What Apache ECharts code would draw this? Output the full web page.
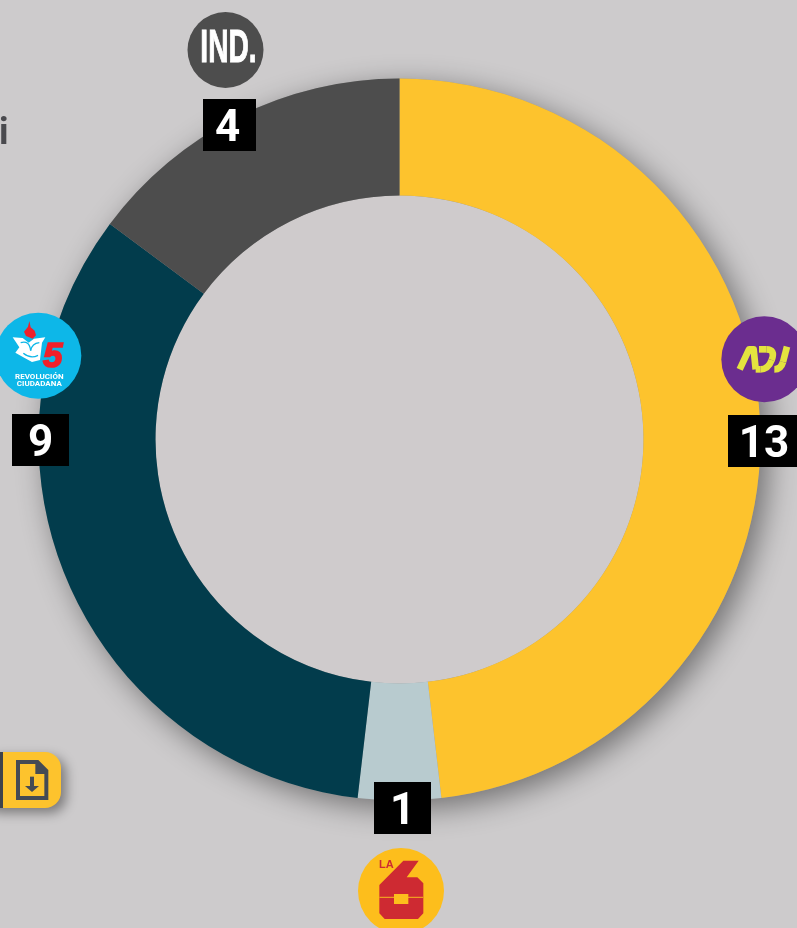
<!DOCTYPE html>
<html><head><meta charset="utf-8">
<script src="https://cdn.jsdelivr.net/npm/echarts@6/dist/echarts.min.js"></script>
<style>html,body{margin:0;padding:0;background:#cdcbcc;overflow:hidden}#c{width:797px;height:928px}</style>
</head><body><div id="c"></div>
<script>
const parties = ['ADN', 'La 6', 'Revolución Ciudadana', 'Independientes'];
const seats = [13, 1, 9, 4];
const colors = ['#FDC32D', '#B8CBCF', '#023C4C', '#4D4D4D'];
const BG = '#cdcbcc', HOLE = '#cfcbcc';
const labelCenters = [[764, 441], [402.5, 808], [40.5, 440], [229.5, 125]];
const labelWidths = [72, 57, 57, 49];
const labelPads = [[0,0,0,0], [0,0,0,0], [0,0,0,0], [0,4,0,0]];
const total = seats.reduce((a, b) => a + b, 0);
const CENTER = [399.5, 439.5];

const Z = 10;
const zoomGroup = (ox, oy, children) => ({type: 'group', x: ox, y: oy, scaleX: 1/3, scaleY: 1/3, children});
const poly = (points, fill) => ({type: 'polygon', shape: {points}, style: {fill}});
const pl = (points, stroke, lineWidth) => ({type: 'polyline', shape: {points}, style: {fill: 'none', stroke, lineWidth, lineJoin: 'round'}});
const bz = (p, c, q, stroke, lineWidth) => ({type: 'bezierCurve', shape: {x1: p[0], y1: p[1], cpx1: c[0], cpy1: c[1], x2: q[0], y2: q[1]}, style: {fill: 'none', stroke, lineWidth}});
const raise = el => { el.z = Z; (el.children || []).forEach(raise); return el; };

const logoIND = {type: 'group', children: [
  {type: 'circle', shape: {cx: 225.5, cy: 50, r: 38}, style: {fill: '#4D4D4D'}},
  {type: 'text', x: 228.5, y: 49, scaleX: .6, style: {text: 'IND.', font: 'bold 47px "Liberation Sans"', fill: '#fff', stroke: '#fff', lineWidth: 1, align: 'center', verticalAlign: 'middle'}}
]};

const RCB = '#0DB7E8';
const logoRC = zoomGroup(0, 300, [
  {type: 'circle', shape: {cx: 115, cy: 167, r: 129}, style: {fill: RCB}},
  poly([[88,63],[84,80],[72,95],[78,108],[98,116],[108,106],[104,92],[92,82]], '#F0202A'),
  poly([[38,112],[68,114],[86,128],[102,116],[136,112],[126,128],[120,180],[96,186],[70,172],[46,158],[58,142]], '#fff'),
  bz([62,128],[88,120],[92,152],RCB,4),
  bz([92,152],[96,130],[118,128],RCB,4),
  bz([70,160],[92,178],[114,166],RCB,4),
  {type: 'text', x: 158, y: 173, style: {text: '5', font: 'italic bold 105px "Liberation Sans"', fill: '#F0202A', stroke: '#F0202A', lineWidth: 5, align: 'center', verticalAlign: 'middle'}},
  {type: 'text', x: 118, y: 230, style: {text: 'REVOLUCIÓN', font: 'bold 24px Roboto', fill: '#fff', align: 'center', verticalAlign: 'middle'}},
  {type: 'text', x: 118, y: 252, style: {text: 'CIUDADANA', font: 'bold 24px Roboto', fill: '#fff', align: 'center', verticalAlign: 'middle'}}
]);

const ADY = '#E4E33F', ADW = 20;
const logoADN = zoomGroup(697, 300, [
  {type: 'circle', shape: {cx: 202, cy: 178, r: 129}, style: {fill: '#6B2D8F'}},
  pl([[128,208],[156,148],[170,148],[176,208]], ADY, ADW),
  pl([[186,148],[208,148]], ADY, ADW),
  bz([208,148],[236,148],[224,180],ADY,ADW),
  bz([224,180],[214,208],[190,208],ADY,ADW),
  pl([[190,208],[176,208]], ADY, ADW),
  pl([[270,140],[258,186]], ADY, ADW),
  bz([258,186],[252,208],[232,208],ADY,ADW)
]);

const logoLA6 = zoomGroup(340, 770, [
  {type: 'circle', shape: {cx: 183, cy: 363, r: 129}, style: {fill: '#FDBE1C'}},
  poly([[190,272],[236,272],[200,322],[232,322],[250,340],[250,430],[234,447],[134,447],[118,430],[118,345]], '#CE2A32'),
  {type: 'rect', shape: {x: 118, y: 380, width: 132, height: 4}, style: {fill: '#F09A22'}},
  {type: 'rect', shape: {x: 162, y: 372, width: 43, height: 30}, style: {fill: '#FDBE1C'}},
  {type: 'text', x: 139, y: 286, style: {text: 'LA', font: 'bold 33px "Liberation Sans"', fill: '#CE2A32', align: 'center', verticalAlign: 'middle'}}
]);

const ICON = '#454B54';
const download = {type: 'group', children: [
  {type: 'rect', shape: {x: -20, y: 752, width: 81, height: 56, r: 16}, style: {fill: '#FDC32D', shadowBlur: 12, shadowOffsetX: 5, shadowOffsetY: 5, shadowColor: 'rgba(0,0,0,.4)'}},
  {type: 'rect', shape: {x: 0, y: 752, width: 3, height: 56}, style: {fill: '#3E434B'}},
  zoomGroup(0, 740, [
    poly([[48,60],[115,60],[145,90],[145,180],[48,180]], ICON),
    poly([[60,72],[106,72],[106,102],[133,102],[133,168],[60,168]], '#FDC32D'),
    {type: 'rect', shape: {x: 90, y: 110, width: 12, height: 30}, style: {fill: ICON}},
    poly([[75,138],[117,138],[96,156]], ICON)
  ])
]};

const clippedText = {type: 'text', x: -1, y: 117, style: {text: 'i', font: 'bold 36px Roboto', fill: '#4A4A4E', align: 'left', verticalAlign: 'top'}};

const chart = echarts.init(document.getElementById('c'), null, {renderer: 'canvas'});
chart.setOption({
  animation: false,
  backgroundColor: BG,
  graphic: {elements: [clippedText, download, logoIND, logoRC, logoADN, logoLA6].map(raise)},
  series: [
    {type: 'pie', z: 1, silent: true, center: CENTER, radius: [0, 361], label: {show: false}, labelLine: {show: false},
     data: [{value: total, itemStyle: {color: '#999', shadowBlur: 30, shadowOffsetX: 8, shadowOffsetY: 8, shadowColor: 'rgba(0,0,0,.45)'}}]},
    {type: 'pie', z: 2, silent: true, center: CENTER, radius: [0, 244], label: {show: false}, labelLine: {show: false},
     data: [{value: total, itemStyle: {color: HOLE}}]},
    {type: 'pie', z: 3, silent: true, center: CENTER, radius: [244, 361], startAngle: 90, clockwise: true,
     avoidLabelOverlap: false,
     data: parties.map((name, i) => ({name, value: seats[i], itemStyle: {color: colors[i]},
       label: {width: labelWidths[i], padding: labelPads[i]}})),
     label: {show: true, position: 'outside', formatter: '{v|{c}}', backgroundColor: '#000', color: '#fff',
       height: 52, align: 'center', verticalAlign: 'middle',
       rich: {v: {fontFamily: 'Roboto', fontWeight: 'bold', fontSize: 44, color: '#fff', lineHeight: 52, height: 52, padding: [10, 0, 0, 0], align: 'center'}}},
     labelLine: {show: false},
     labelLayout: p => ({x: labelCenters[p.dataIndex][0], y: labelCenters[p.dataIndex][1], align: 'center', verticalAlign: 'middle', hideOverlap: false})}
  ]
});
</script></body></html>
